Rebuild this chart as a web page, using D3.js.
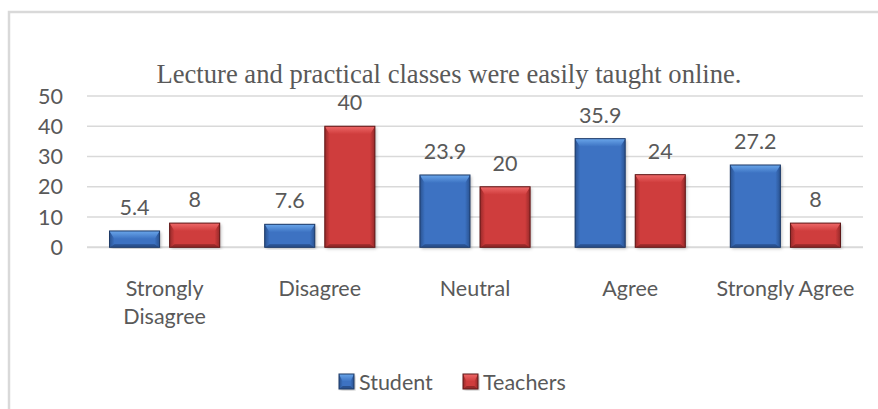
<!DOCTYPE html>
<html>
<head>
<meta charset="utf-8">
<script src="https://cdn.jsdelivr.net/npm/d3@7"></script>
<style>
  body { margin: 0; background: #fff; }
  svg text { fill: #595959; }
  .tick-label, .cat-label, .bar-label, .legend-label { font-family: Lato, "Open Sans", sans-serif; font-size: 21.5px; }
  .title-text { font-family: "Liberation Serif", "Times New Roman", serif; font-size: 26.5px; }
</style>
</head>
<body>
<svg class="chart" width="878" height="409"></svg>
<script>
// data
const categories = ["Strongly Disagree", "Disagree", "Neutral", "Agree", "Strongly Agree"]
const catLines = [["Strongly", "Disagree"], ["Disagree"], ["Neutral"], ["Agree"], ["Strongly Agree"]]
const series = ["Student", "Teachers"]
const studentValues = [5.4, 7.6, 23.9, 35.9, 27.2]
const teacherValues = [8, 40, 20, 24, 8]
const yTicks = [0, 10, 20, 30, 40, 50]
const titleText = "Lecture and practical classes were easily taught online."

const palette = {
    Student: { base: "#3c72c2", light: "#6aa6ea", dark: "#2a5290", edge: "#1e3a66" },
    Teachers: { base: "#cf3c3c", light: "#ee6868", dark: "#962a2a", edge: "#5e1818" }
}

var svg = d3.select(".chart")
var plot = { left: 87, right: 863, top: 96, bottom: 247.3 }

// outer frame
svg.append("rect")
    .attr("x", 9).attr("y", 12)
    .attr("width", 900).attr("height", 420)
    .style("fill", "none")
    .style("stroke", "#d9d9d9")
    .style("stroke-width", 2.5)

svg.append("text")
    .classed("title-text", true)
    .text(titleText)
    .attr("x", 449).attr("y", 83)
    .attr("textLength", 585)
    .attr("lengthAdjust", "spacingAndGlyphs")
    .style("text-anchor", "middle")

var y = d3.scaleLinear().domain([0, 50]).range([plot.bottom, plot.top])
var x0 = d3.scaleBand().domain(categories).range([plot.left, plot.right])
    .paddingInner(0.29).paddingOuter(0.145)
var x1 = d3.scaleBand().domain(series).range([0, x0.bandwidth()])
    .paddingInner(0.167)

// gridlines + y labels
var grid = svg.append("g")
yTicks.forEach(function (t) {
    grid.append("line")
        .attr("x1", plot.left).attr("x2", plot.right)
        .attr("y1", y(t)).attr("y2", y(t))
        .style("stroke", "#d9d9d9")
        .style("stroke-width", t == 0 ? 2 : 1.5)
    grid.append("text")
        .classed("tick-label", true)
        .text(t)
        .attr("x", 63).attr("y", y(t) + 7.5)
        .style("text-anchor", "end")
})

var defs = svg.append("defs")
series.forEach(function (s) {
    let c = palette[s]
    let g = defs.append("linearGradient").attr("id", "side_" + s)
        .attr("x1", 0).attr("x2", 1).attr("y1", 0).attr("y2", 0)
    g.append("stop").attr("offset", 0).attr("stop-color", c.dark)
    g.append("stop").attr("offset", 1).attr("stop-color", c.base)
    let g2 = defs.append("linearGradient").attr("id", "sideR_" + s)
        .attr("x1", 0).attr("x2", 1).attr("y1", 0).attr("y2", 0)
    g2.append("stop").attr("offset", 0).attr("stop-color", c.base)
    g2.append("stop").attr("offset", 1).attr("stop-color", c.dark)
    let g3 = defs.append("linearGradient").attr("id", "top_" + s)
        .attr("x1", 0).attr("x2", 0).attr("y1", 0).attr("y2", 1)
    g3.append("stop").attr("offset", 0).attr("stop-color", c.light)
    g3.append("stop").attr("offset", 1).attr("stop-color", c.base)
})
defs.append("filter").attr("id", "shadow")
    .append("feDropShadow")
    .attr("dx", 1.5).attr("dy", 1.5).attr("stdDeviation", 1.5)
    .attr("flood-color", "#000").attr("flood-opacity", 0.25)

// bevelled bar, like the office 3d style
var drawBar = function (g, bx, by, bw, bh, s) {
    let c = palette[s]
    let bev = Math.min(8, bh / 2)
    let side = Math.min(5, bw / 4)
    let bot = Math.min(3, bh / 4)
    g.append("rect")
        .attr("x", bx).attr("y", by).attr("width", bw).attr("height", bh)
        .style("fill", c.base)
        .attr("filter", "url(#shadow)")
    // left side
    g.append("polygon")
        .attr("points", [[bx, by], [bx + side, by + bev], [bx + side, by + bh - bot], [bx, by + bh]].join(" "))
        .style("fill", "url(#side_" + s + ")")
    // right side
    g.append("polygon")
        .attr("points", [[bx + bw, by], [bx + bw - side, by + bev], [bx + bw - side, by + bh - bot], [bx + bw, by + bh]].join(" "))
        .style("fill", "url(#sideR_" + s + ")")
    // top bevel
    g.append("polygon")
        .attr("points", [[bx, by], [bx + bw, by], [bx + bw - side, by + bev], [bx + side, by + bev]].join(" "))
        .style("fill", "url(#top_" + s + ")")
    // bottom
    g.append("polygon")
        .attr("points", [[bx, by + bh], [bx + bw, by + bh], [bx + bw - side, by + bh - bot], [bx + side, by + bh - bot]].join(" "))
        .style("fill", c.dark)
    g.append("rect")
        .attr("x", bx).attr("y", by).attr("width", bw).attr("height", bh)
        .style("fill", "none")
        .style("stroke", c.edge)
        .style("stroke-width", 1)
}

var bars = svg.append("g")
categories.forEach(function (cat, i) {
    let vals = { Student: studentValues[i], Teachers: teacherValues[i] }
    series.forEach(function (s) {
        let v = vals[s]
        let bx = x0(cat) + x1(s)
        let by = y(v)
        drawBar(bars, bx, by, x1.bandwidth(), y(0) - by, s)
        bars.append("text")
            .classed("bar-label", true)
            .text(v)
            .attr("x", bx + x1.bandwidth() / 2)
            .attr("y", by - 16)
            .style("text-anchor", "middle")
    })
    let t = svg.append("text")
        .classed("cat-label", true)
        .attr("x", x0(cat) + x0.bandwidth() / 2)
        .attr("y", 296)
        .style("text-anchor", "middle")
    catLines[i].forEach(function (ln, k) {
        t.append("tspan")
            .attr("x", x0(cat) + x0.bandwidth() / 2)
            .attr("dy", k == 0 ? 0 : 28)
            .text(ln)
    })
})

// legend
var legend = svg.append("g")
var legendX = [339, 463]
series.forEach(function (s, i) {
    drawBar(legend, legendX[i], 374, 15, 15, s)
    legend.append("text")
        .classed("legend-label", true)
        .text(s)
        .attr("x", legendX[i] + 20)
        .attr("y", 390)
})
</script>
</body>
</html>
